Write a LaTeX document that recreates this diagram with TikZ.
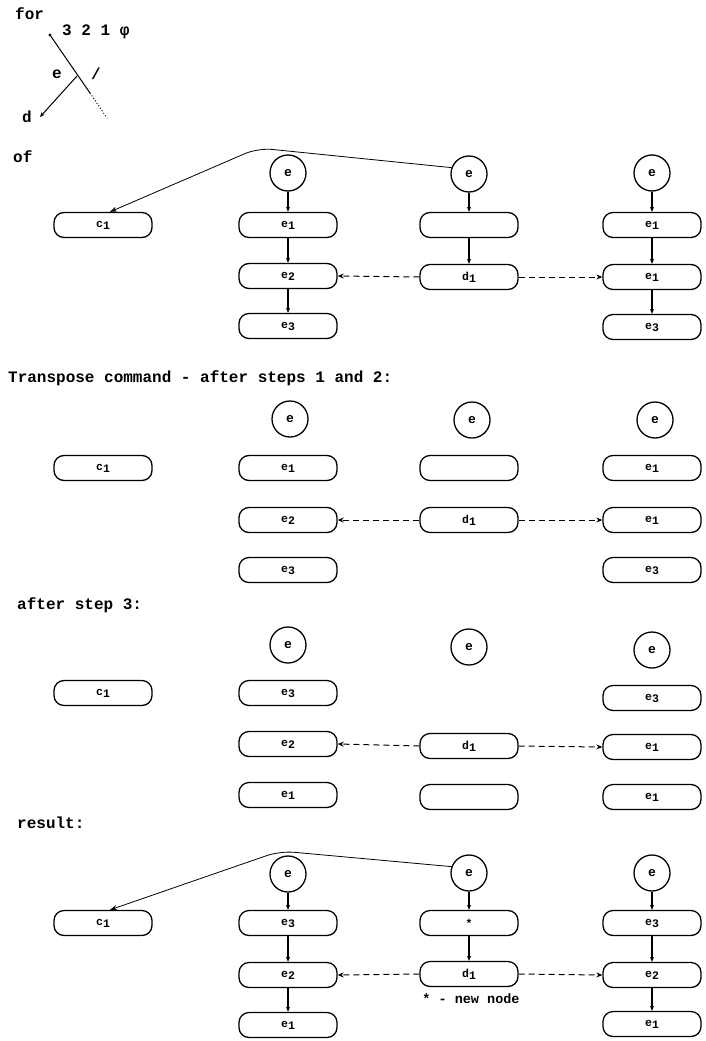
\documentclass[tikz,border=0pt]{standalone}
\usepackage{fontspec}
\newfontfamily\hdfont{Liberation Mono}
\usetikzlibrary{arrows.meta}
\newcommand\sublbl[2]{#1\raisebox{-2pt}{#2}}
\tikzset{
  hd/.style={anchor=west, inner sep=0pt, font=\hdfont\bfseries\fontsize{16}{16}\selectfont},
  rec/.style={draw, line width=1.3pt, rounded corners=10pt, minimum width=98pt,
              minimum height=25pt, inner sep=0pt, font=\hdfont\bfseries\fontsize{11.5}{11.5}\selectfont},
  circ/.style={draw, circle, line width=1.3pt, minimum size=36pt, inner sep=0pt,
              font=\hdfont\bfseries\fontsize{13}{13}\selectfont},
  link/.style={line width=1.4pt, -{Stealth[length=5pt,width=4pt]}},
  ptr/.style={line width=1pt, dash pattern=on 6pt off 4pt, -{Stealth[length=6pt,width=5pt]}},
  back/.style={line width=0.8pt, rounded corners=14pt, -{Stealth[length=7pt,width=5pt]}},
  tree/.style={line width=1pt},
  note/.style={inner sep=0pt, font=\hdfont\bfseries\fontsize{13.5}{13.5}\selectfont},
}
\begin{document}
\begin{tikzpicture}[x=1pt,y=1pt]
\useasboundingbox (0,0) rectangle (705,-1041);
% ---------- top: for ----------
\node[hd] (for) at (15,-14) {for};
\coordinate (tr) at (50,-35);
\coordinate (tj) at (77,-76);
\coordinate (tm) at (90,-93);
\coordinate (tz) at (107,-118);
\coordinate (td) at (40,-117);
\fill (tr) circle (1.6pt);
\draw[tree] (tr) -- (tm);
\draw[tree, dotted] (tm) -- (tz);
\draw[tree, -{Stealth[length=5pt,width=4pt]}] (tj) -- (td);
\node[hd] (cnt) at (62,-32) {3 2 1 φ};
\node[hd] (te) at (52,-74) {e};
\node[hd] (ts) at (91,-74) {/};
\node[hd] (tdl) at (22,-117) {d};
% ---------- section 1: of ----------
\node[hd] (of) at (13,-157) {of};
\node[rec] (a1) at (103,-225) {\sublbl{c}{1}};
\node[circ] (b10) at (288,-173) {e};
\node[rec] (b11) at (288,-225) {\sublbl{e}{1}};
\node[rec] (b12) at (288,-276) {\sublbl{e}{2}};
\node[rec] (b13) at (288,-326) {\sublbl{e}{3}};
\node[circ] (c10) at (469,-174) {e};
\node[rec] (c11) at (469,-225) {};
\node[rec] (c12) at (469,-277) {\sublbl{d}{1}};
\node[circ] (d10) at (652,-173) {e};
\node[rec] (d11) at (652,-225) {\sublbl{e}{1}};
\node[rec] (d12) at (652,-277) {\sublbl{e}{1}};
\node[rec] (d13) at (652,-327) {\sublbl{e}{3}};
\draw[link] (b10) -- (b11);
\draw[link] (b11) -- (b12);
\draw[link] (b12) -- (b13);
\draw[link] (c10) -- (c11);
\draw[link] (c11) -- (c12);
\draw[link] (d10) -- (d11);
\draw[link] (d11) -- (d12);
\draw[link] (d12) -- (d13);
\draw[ptr] (c12.west) -- (b12.east);
\draw[ptr] (c12.east) -- (d12.west);
\coordinate (pk1) at (258,-148);
\draw[back] (c10.160) -- (pk1) -- ([xshift=7pt]a1.north);
% ---------- section 2 ----------
\node[hd] (h2) at (8,-378) {Transpose command - after steps 1 and 2:};
\node[rec] (a2) at (103,-468) {\sublbl{c}{1}};
\node[circ] (b20) at (290,-419) {e};
\node[rec] (b21) at (288,-468) {\sublbl{e}{1}};
\node[rec] (b22) at (288,-520) {\sublbl{e}{2}};
\node[rec] (b23) at (288,-570) {\sublbl{e}{3}};
\node[circ] (c20) at (472,-420) {e};
\node[rec] (c21) at (469,-468) {};
\node[rec] (c22) at (469,-520) {\sublbl{d}{1}};
\node[circ] (d20) at (655,-420) {e};
\node[rec] (d21) at (652,-468) {\sublbl{e}{1}};
\node[rec] (d22) at (652,-520) {\sublbl{e}{1}};
\node[rec] (d23) at (652,-570) {\sublbl{e}{3}};
\draw[ptr] (c22.west) -- (b22.east);
\draw[ptr] (c22.east) -- (d22.west);
% ---------- section 3 ----------
\node[hd] (h3) at (17,-605) {after step 3:};
\node[rec] (a3) at (103,-693) {\sublbl{c}{1}};
\node[circ] (b30) at (288,-645) {e};
\node[rec] (b31) at (288,-693) {\sublbl{e}{3}};
\node[rec] (b32) at (288,-744) {\sublbl{e}{2}};
\node[rec] (b33) at (288,-795) {\sublbl{e}{1}};
\node[circ] (c30) at (469,-647) {e};
\node[rec] (c31) at (469,-746) {\sublbl{d}{1}};
\node[rec] (c32) at (469,-797) {};
\node[circ] (d30) at (652,-650) {e};
\node[rec] (d31) at (652,-698) {\sublbl{e}{3}};
\node[rec] (d32) at (652,-747) {\sublbl{e}{1}};
\node[rec] (d33) at (652,-797) {\sublbl{e}{1}};
\draw[ptr] (c31.west) -- (b32.east);
\draw[ptr] (c31.east) -- (d32.west);
% ---------- section 4 ----------
\node[hd] (h4) at (17,-823) {result:};
\node[rec] (a4) at (103,-923) {\sublbl{c}{1}};
\node[circ] (b40) at (288,-874) {e};
\node[rec] (b41) at (288,-923) {\sublbl{e}{3}};
\node[rec] (b42) at (288,-975) {\sublbl{e}{2}};
\node[rec] (b43) at (288,-1025) {\sublbl{e}{1}};
\node[circ] (c40) at (469,-873) {e};
\node[rec] (c41) at (469,-923) {*};
\node[rec] (c42) at (469,-974) {\sublbl{d}{1}};
\node[circ] (d40) at (652,-873) {e};
\node[rec] (d41) at (652,-923) {\sublbl{e}{3}};
\node[rec] (d42) at (652,-975) {\sublbl{e}{2}};
\node[rec] (d43) at (652,-1024) {\sublbl{e}{1}};
\draw[link] (b40) -- (b41);
\draw[link] (b41) -- (b42);
\draw[link] (b42) -- (b43);
\draw[link] (c40) -- (c41);
\draw[link] (c41) -- (c42);
\draw[link] (d40) -- (d41);
\draw[link] (d41) -- (d42);
\draw[link] (d42) -- (d43);
\draw[ptr] (c42.west) -- (b42.east);
\draw[ptr] (c42.east) -- (d42.west);
\coordinate (pk4) at (280,-851);
\draw[back] (c40.160) -- (pk4) -- ([xshift=7pt]a4.north);
\node[note] (nn) at (471,-999) {* - new node};
\end{tikzpicture}
\end{document}
